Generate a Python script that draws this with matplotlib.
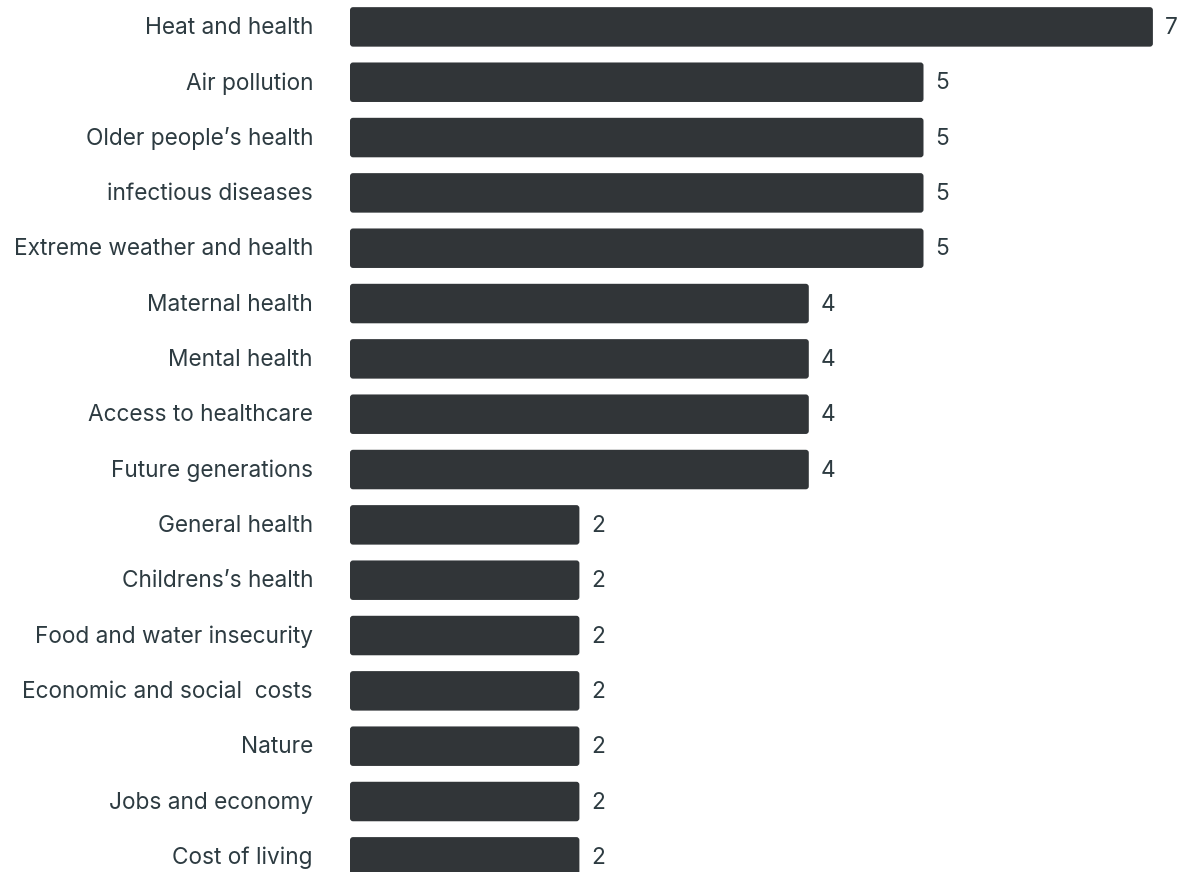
import matplotlib
matplotlib.use("Agg")
import matplotlib.pyplot as plt
from matplotlib.patches import FancyBboxPatch

# Topics and how many times each was mentioned
topics = [
    "Heat and health",
    "Air pollution",
    "Older people\u2019s health",
    "infectious diseases",
    "Extreme weather and health",
    "Maternal health",
    "Mental health",
    "Access to healthcare",
    "Future generations",
    "General health",
    "Childrens\u2019s health",
    "Food and water insecurity",
    "Economic and social  costs",
    "Nature",
    "Jobs and economy",
    "Cost of living",
]
counts = [7, 5, 5, 5, 5, 4, 4, 4, 4, 2, 2, 2, 2, 2, 2, 2]

BAR_COLOR = "#313538"
TEXT_COLOR = "#2d3b41"

plt.rcParams["font.family"] = ["Inter", "DejaVu Sans"]

W, H = 1180, 872
fig = plt.figure(figsize=(W / 100, H / 100), dpi=100)
ax = fig.add_axes([350 / W, 0, 1 - 350 / W, 1])

px_x = 114.7   # pixels per unit on x
px_y = 55.33   # pixels per row
top_c = 26.9   # centre of the first row, px from top

ypos = list(range(len(topics)))
bars = ax.barh(ypos, counts, height=39.5 / px_y, color=BAR_COLOR)

# swap the square bars for ones with slightly rounded corners
r = 3.0 / px_x
for b in bars:
    x, y = b.get_x(), b.get_y()
    w, h = b.get_width(), b.get_height()
    ax.add_patch(FancyBboxPatch((x, y), w, h,
                                boxstyle=f"round,pad=0,rounding_size={r}",
                                mutation_aspect=px_x / px_y,
                                facecolor=BAR_COLOR, edgecolor="none"))
    b.remove()

ax.set_xlim(0, (W - 350) / px_x)
ax.set_ylim((H - top_c) / px_y, -top_c / px_y)
ax.axis("off")

for i, (t, v) in enumerate(zip(topics, counts)):
    ax.text(-37 / px_x, i + 0.02, t, ha="right", va="center",
            fontsize=16.3, color=TEXT_COLOR)
    ax.text(v + 12 / px_x, i + 0.02, str(v), ha="left", va="center",
            fontsize=16.3, color=TEXT_COLOR)

fig.savefig("out.png", dpi=100)
